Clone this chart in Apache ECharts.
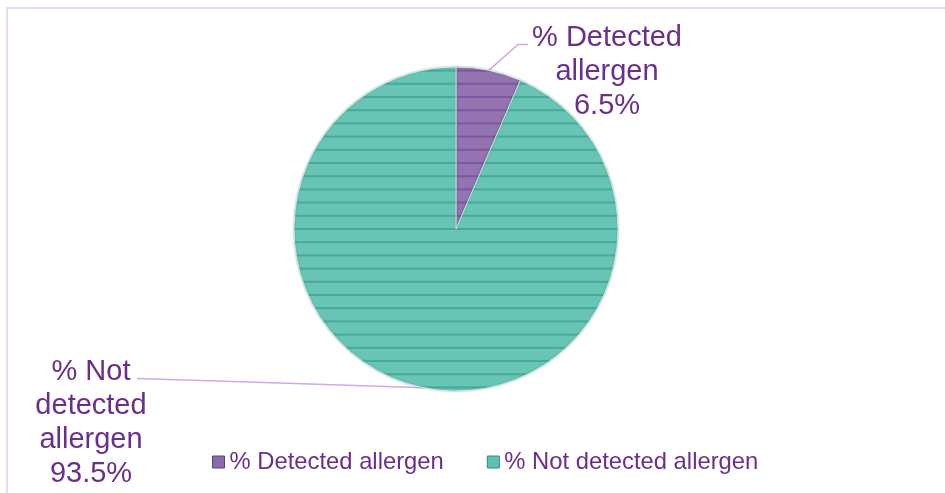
<!DOCTYPE html>
<html>
<head>
<meta charset="utf-8">
<script src="https://cdn.jsdelivr.net/npm/echarts@6/dist/echarts.min.js"></script>
<style>
  html, body { margin: 0; padding: 0; background: #ffffff; }
  #chart { width: 945px; height: 493px; }
</style>
</head>
<body>
<div id="chart"></div>
<script>
// Share of samples with / without a detected allergen
const categories = ['% Detected allergen', '% Not detected allergen'];
const shares = [6.5, 93.5];
// Slice label text, broken over lines
const labelNames = ['% Detected\nallergen', '% Not\ndetected\nallergen'];

const TEXT_PURPLE = '#6a2e8c';
const FONT = '"Liberation Sans", Arial, sans-serif';

// Horizontal-stripe fill: a tall tile holding five stripes so the spacing can be fractional
function stripePattern(fill, stripe) {
  const c = document.createElement('canvas');
  c.width = 8; c.height = 66;
  const g = c.getContext('2d');
  g.fillStyle = fill;
  g.fillRect(0, 0, c.width, c.height);
  g.fillStyle = stripe;
  const offsets = [4.6, 17.8, 31, 44.2, 57.4];
  offsets.forEach(function (o) { g.fillRect(0, o - 1, c.width, 2); });
  return { image: c, repeat: 'repeat' };
}

const sliceFills = [
  stripePattern('#9373b0', '#7c569f'),
  stripePattern('#68c4b4', '#45ab98')
];
const legendFills = [
  { color: '#8c6aad', borderColor: '#5e3f7c' },
  { color: '#5fc2b1', borderColor: '#2f8a7b' }
];

const chart = echarts.init(document.getElementById('chart'), null, { renderer: 'canvas' });

chart.setOption({
  backgroundColor: '#ffffff',
  animation: false,
  graphic: [{
    type: 'rect',
    shape: { x: 7, y: 8, width: 1200, height: 800 },
    style: { fill: 'none', stroke: '#e6daf4', lineWidth: 2 },
    silent: true
  }],
  legend: {
    left: 212,
    top: 450,
    padding: 0,
    itemWidth: 12,
    itemHeight: 12,
    itemGap: 43,
    icon: 'rect',
    textStyle: { color: TEXT_PURPLE, fontSize: 23.8, fontFamily: FONT },
    data: categories.map(function (name, i) {
      return { name: name, itemStyle: { color: legendFills[i].color, borderColor: legendFills[i].borderColor, borderWidth: 1 } };
    })
  },
  series: [{
    type: 'pie',
    center: [456, 229],
    radius: 162,
    startAngle: 90,
    clockwise: true,
    avoidLabelOverlap: false,
    itemStyle: {
      borderColor: 'rgba(220,245,240,0.8)',
      borderWidth: 1,
      shadowBlur: 2,
      shadowColor: 'rgba(40,70,70,0.35)'
    },
    label: {
      show: true,
      position: 'outside',
      color: TEXT_PURPLE,
      fontSize: 29,
      fontFamily: FONT,
      lineHeight: 34,
      align: 'center',
      formatter: function (p) {
        return labelNames[p.dataIndex] + '\n' + p.value.toFixed(1) + '%';
      }
    },
    labelLine: {
      show: true,
      smooth: false,
      lineStyle: { color: '#cda9ea', width: 1.5 }
    },
    labelLayout: function (p) {
      const edge = p.labelLinePoints ? p.labelLinePoints[0] : null;
      if (p.dataIndex === 0) {
        return {
          x: 607, y: 21, align: 'center', verticalAlign: 'top',
          labelLinePoints: edge ? [edge, [518, 44.5], [528, 44.5]] : undefined
        };
      }
      return {
        x: 91, y: 355, align: 'center', verticalAlign: 'top',
        labelLinePoints: edge ? [edge, [280, 383], [137, 378.5]] : undefined
      };
    },
    emphasis: { disabled: true },
    data: categories.map(function (name, i) {
      return { name: name, value: shares[i], itemStyle: { color: sliceFills[i] } };
    })
  }]
});
</script>
</body>
</html>
